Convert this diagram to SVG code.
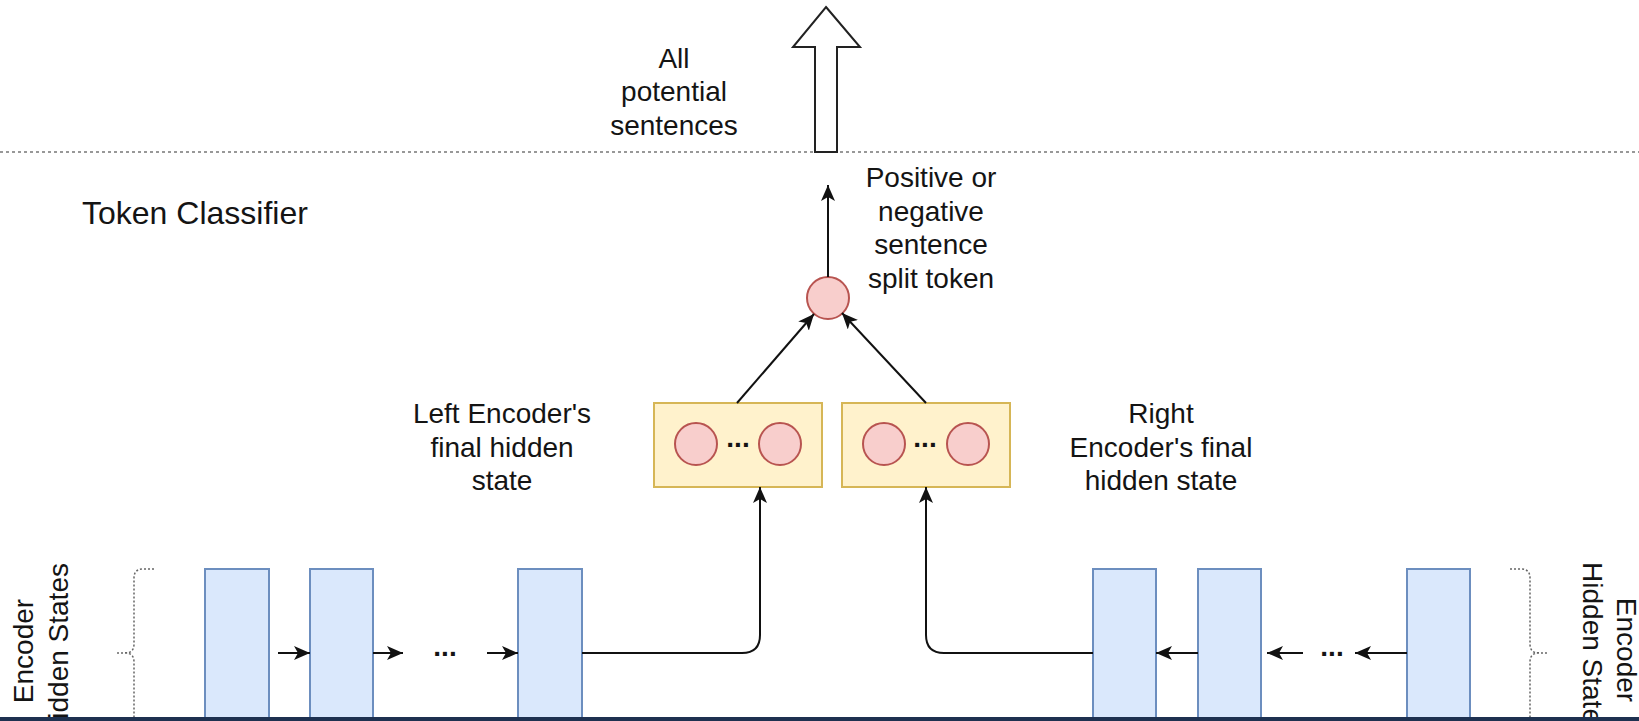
<svg xmlns="http://www.w3.org/2000/svg" width="1639" height="721" viewBox="0 0 1639 721">
<style>
  text { font-family: "Liberation Sans", Arial, Helvetica, sans-serif; fill: #141414; }
  .lbl { font-size: 28px; text-anchor: middle; }
  .dots { font-size: 28px; font-weight: bold; text-anchor: middle; }
  .enc { fill: #dae8fc; stroke: #6c8ebf; stroke-width: 2; }
  .hid { fill: #fff2cc; stroke: #d6b656; stroke-width: 2; }
  .neu { fill: #f8cecc; stroke: #b85450; stroke-width: 2; }
  .edge { fill: none; stroke: #111; stroke-width: 2; marker-end: url(#arr); }
  .brace { fill: none; stroke: #666; stroke-width: 1.5; stroke-dasharray: 2 2; }
</style>
<defs>
  <marker id="arr" markerUnits="userSpaceOnUse" markerWidth="18" markerHeight="16" refX="16" refY="7" orient="auto">
    <path d="M0,0 L16,7 L0,14 L4,7 Z" fill="#111"/>
  </marker>
</defs>
<rect x="0" y="0" width="1639" height="721" fill="#ffffff"/>

<!-- separator -->
<line x1="0" y1="152" x2="1639" y2="152" stroke="#777" stroke-width="1.5" stroke-dasharray="3 3"/>

<g id="output-arrow">
  <polygon points="826,7 860,47 837,47 837,152 815,152 815,47 793,47" fill="#ffffff" stroke="#222" stroke-width="2" stroke-linejoin="miter"/>
</g>
<g id="label-all-sentences">
  <text class="lbl" x="674" y="68">All</text>
  <text class="lbl" x="674" y="101">potential</text>
  <text class="lbl" x="674" y="135">sentences</text>
</g>
<g id="label-token-classifier">
  <text x="82" y="224" font-size="32">Token Classifier</text>
</g>
<g id="label-split-token">
  <text class="lbl" x="931" y="187">Positive or</text>
  <text class="lbl" x="931" y="221">negative</text>
  <text class="lbl" x="931" y="254">sentence</text>
  <text class="lbl" x="931" y="288">split token</text>
</g>
<g id="classifier-node">
  <circle class="neu" cx="828" cy="298" r="21"/>
</g>

<g id="left-final-hidden">
  <rect class="hid" x="654" y="403" width="168" height="84"/>
  <circle class="neu" cx="696" cy="444" r="21"/>
  <circle class="neu" cx="780" cy="444" r="21"/>
  <text class="dots" x="738" y="447">...</text>
</g>
<g id="right-final-hidden">
  <rect class="hid" x="842" y="403" width="168" height="84"/>
  <circle class="neu" cx="884" cy="444" r="21"/>
  <circle class="neu" cx="968" cy="444" r="21"/>
  <text class="dots" x="925" y="447">...</text>
</g>
<g id="label-left-final">
  <text class="lbl" x="502" y="423">Left Encoder's</text>
  <text class="lbl" x="502" y="457">final hidden</text>
  <text class="lbl" x="502" y="490">state</text>
</g>
<g id="label-right-final">
  <text class="lbl" x="1161" y="423">Right</text>
  <text class="lbl" x="1161" y="457">Encoder's final</text>
  <text class="lbl" x="1161" y="490">hidden state</text>
</g>

<g id="left-encoder-states">
  <rect class="enc" x="205" y="569" width="64" height="180"/>
  <rect class="enc" x="310" y="569" width="63" height="180"/>
  <rect class="enc" x="518" y="569" width="64" height="180"/>
  <text class="dots" x="445" y="656">...</text>
</g>
<g id="right-encoder-states">
  <rect class="enc" x="1093" y="569" width="63" height="180"/>
  <rect class="enc" x="1198" y="569" width="63" height="180"/>
  <rect class="enc" x="1407" y="569" width="63" height="180"/>
  <text class="dots" x="1332" y="656">...</text>
</g>

<g id="left-brace">
  <path class="brace" d="M154,569 H143 Q134,569 134,578 V644 Q134,653 125,653 H115 M125,653 Q134,653 134,662 V728 Q134,737 143,737 H154"/>
  <text class="lbl" transform="translate(33,651) rotate(-90)"><tspan x="0" y="0">Encoder</tspan><tspan x="0" y="35">Hidden States</tspan></text>
</g>
<g id="right-brace">
  <path class="brace" d="M1510,569 H1521 Q1530,569 1530,578 V644 Q1530,653 1539,653 H1548 M1539,653 Q1530,653 1530,662 V728 Q1530,737 1521,737 H1510"/>
  <text class="lbl" transform="translate(1617,650) rotate(90)"><tspan x="0" y="0">Encoder</tspan><tspan x="0" y="34">Hidden States</tspan></text>
</g>

<g id="connectors">
  <path class="edge" d="M828,277 V185"/>
  <path class="edge" d="M737,403 L814,314"/>
  <path class="edge" d="M926,403 L842,313"/>
  <path class="edge" d="M582,653 H742 Q760,653 760,635 V487"/>
  <path class="edge" d="M1093,653 H944 Q926,653 926,635 V487"/>
  <path class="edge" d="M278,653 H310"/>
  <path class="edge" d="M373,653 H403"/>
  <path class="edge" d="M487,653 H518"/>
  <path class="edge" d="M1198,653 H1156"/>
  <path class="edge" d="M1303,653 H1267"/>
  <path class="edge" d="M1407,653 H1355"/>
</g>

<rect id="bottom-bar" x="0" y="717" width="1639" height="4" fill="#1e3150"/>
</svg>
